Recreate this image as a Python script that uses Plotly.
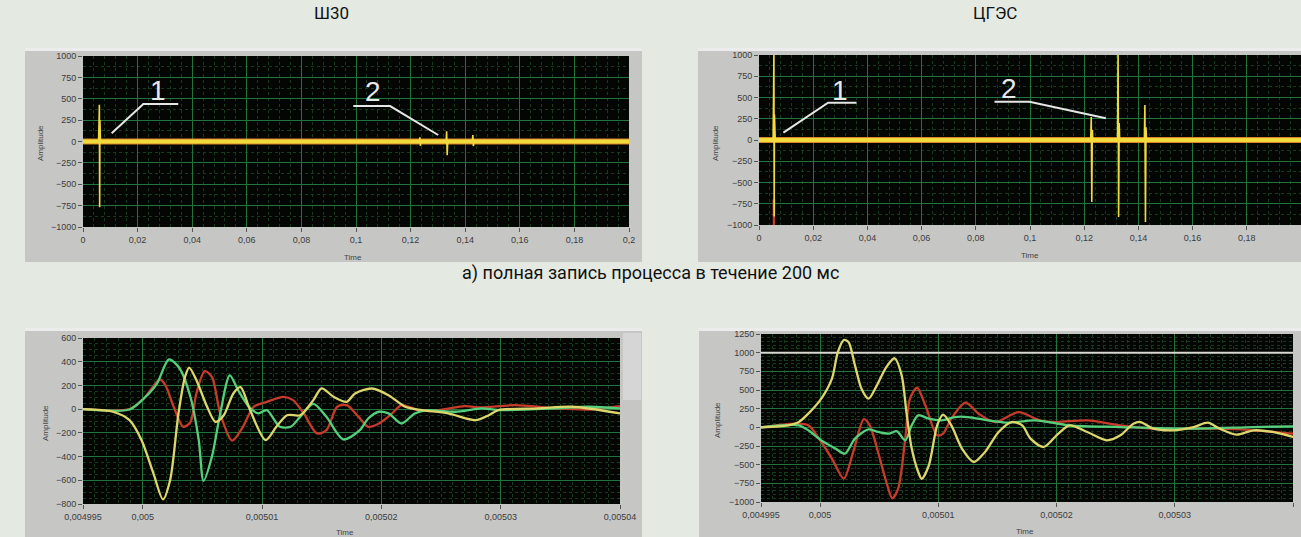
import plotly.graph_objects as go

# ---------------- DATA ----------------
panel_titles = ["Ш30", "ЦГЭС"]
caption = "а) полная запись процесса в течение 200 мс"

# Top panels: full 200 ms record (time in s, amplitude)
top_base_t = [0.0, 0.2]
top_base_a = [0, 0]

shz_spike_t = [0.0, 0.0057, 0.0059, 0.0060, 0.0061, 0.0062, 0.0064, 0.1232, 0.1234, 0.1236,
               0.1238, 0.1330, 0.1332, 0.1334, 0.1336, 0.1426, 0.1428, 0.1430, 0.1432, 0.2]
shz_spike_a = [0, 0, 260, 430, -770, 250, 0, 0, 50, -50,
               0, 0, 120, -160, 0, 0, 76, -53, 0, 0]

cges_spike_t = [0.0, 0.0052, 0.0054, 0.0055, 0.0056, 0.0057, 0.0060, 0.1224, 0.1226, 0.1228,
                0.1230, 0.1232, 0.1323, 0.1325, 0.1327, 0.1329, 0.1331, 0.1422, 0.1424, 0.1426,
                0.1428, 0.1430, 0.2]
cges_spike_a = [0, 0, 600, 1100, -900, 300, 0, 0, 270, -730,
                120, 0, 0, 1100, -906, 200, 0, 0, 412, -965,
                150, 0, 0]
cges_red_t = [0.0054, 0.0055, 0.0056]
cges_red_a = [-700, -1000, -700]

# Labels "1" / "2" with leader lines (axis coords)
marks_top_left = [("1", 0.0275, 602, [0.0105, 0.0221, 0.0349], [96, 439, 439]),
                  ("2", 0.1063, 582, [0.0990, 0.1125, 0.1301], [415, 415, 76])]
marks_top_right = [("1", 0.0298, 588, [0.0090, 0.0255, 0.0360], [86, 439, 439]),
                   ("2", 0.0924, 608, [0.0869, 0.0998, 0.1280], [451, 451, 255])]

# Bottom-left (Ш30) zoom: time in microseconds
bl_green_t = [4995, 4998.9, 5000.1, 5001.2, 5002.2, 5003.1, 5004.0, 5004.7, 5005.1, 5005.8,
              5006.5, 5007.3, 5008.0, 5008.9, 5009.7, 5010.4, 5011.5, 5012.4, 5013.2, 5014.3,
              5015.4, 5016.8, 5018.2, 5018.9, 5019.8, 5020.6, 5021.7, 5022.8, 5023.9, 5026.2,
              5028.4, 5029.8, 5034.6, 5037.4, 5040]
bl_green_a = [0, -3, 90, 216, 420, 343, 104, -261, -605, -402,
              -36, 285, 160, 20, -36, -8, -149, -149, -65, 45,
              -65, -255, -177, -79, -22, -36, -121, -36, -8, -22,
              6, -8, 6, 20, 6]
bl_red_t = [4995, 4998.9, 5000.1, 5001.45, 5001.9, 5002.6, 5003.4, 5004.0, 5004.5, 5005.2,
            5005.8, 5006.5, 5007.5, 5008.4, 5009.3, 5010.4, 5011.8, 5012.6, 5013.5, 5014.6,
            5015.4, 5016.3, 5017.1, 5018.1, 5018.9, 5019.8, 5020.9, 5021.7, 5023.1, 5024.8,
            5027.0, 5028.4, 5031.2, 5034.6, 5037.4, 5040]
bl_red_a = [0, 0, 90, 250, 202, 20, -149, -110, 132, 320,
            272, -36, -265, -149, 20, 62, 104, 76, -36, -205,
            -177, 20, 34, -65, -149, -121, -36, 34, -8, -8,
            25, 14, 34, 6, -3, 25]
bl_yellow_t = [4995, 4997.5, 4998.9, 4999.9, 5000.9, 5001.7, 5002.3, 5003.0, 5003.55, 5003.9,
               5004.5, 5005.4, 5006.1, 5006.8, 5007.6, 5008.2, 5009.0, 5010.3, 5011.2, 5012.1,
               5013.2, 5014.3, 5015.0, 5016.0, 5017.1, 5017.8, 5019.2, 5020.6, 5022.0, 5023.4,
               5025.6, 5027.9, 5029.0, 5029.8, 5033.2, 5036.0, 5040]
bl_yellow_a = [0, -22, -93, -261, -542, -760, -599, -36, 272, 350,
               245, 20, -107, -51, 132, 185, -8, -261, -149, -51,
               -51, 76, 175, 104, 62, 132, 174, 118, 20, -8,
               -36, -93, -51, -8, 6, 20, -36]

# Bottom-right (ЦГЭС) zoom
br_yellow_t = [4995, 4997.3, 4998.2, 4999.0, 5000.1, 5001.0, 5001.5, 5002.0, 5002.4, 5002.95,
               5003.5, 5004.1, 5004.8, 5005.6, 5006.3, 5006.9, 5007.3, 5007.75, 5008.3, 5008.6,
               5009.2, 5009.9, 5010.4, 5011.1, 5012.0, 5013.0, 5013.95, 5015.1, 5016.2, 5017.1,
               5017.8, 5018.9, 5020.0, 5021.1, 5022.6, 5024.25, 5025.4, 5026.5, 5027.1, 5028.2,
               5029.9, 5031.6, 5032.8, 5033.8, 5035.2, 5036.7, 5038.3, 5040]
br_yellow_a = [0, 27, 71, 183, 384, 652, 1008, 1170, 1142, 830,
               518, 384, 562, 807, 925, 696, 205, -285, -598, -690,
               -509, 27, 170, 27, -285, -464, -330, -62, 71, 27,
               -152, -263, -107, 27, -62, -174, -107, 49, 71, -18,
               -40, 4, 62, -18, -98, -40, -62, -129]
br_red_t = [4995, 4997.9, 4999.0, 5000.1, 5001.0, 5002.0, 5002.8, 5003.7, 5004.2, 5004.9,
            5005.6, 5006.1, 5006.6, 5007.2, 5007.6, 5008.2, 5008.9, 5009.9, 5010.4, 5011.1,
            5012.3, 5013.4, 5014.8, 5016.8, 5018.2, 5018.6, 5020.0, 5022.6, 5025.4, 5028.2,
            5033.8, 5036.7, 5040]
br_red_a = [0, 49, 27, -196, -419, -687, -330, 110, 27, -330,
            -732, -950, -821, -152, 384, 530, 295, -107, -85, 116,
            330, 183, 71, 205, 116, 94, 71, 94, 27, -18,
            -18, -40, -85]
br_green_t = [4995, 4998.2, 4999.0, 5000.1, 5001.3, 5002.1, 5002.95, 5004.1, 5004.9, 5005.8,
              5006.5, 5007.2, 5007.75, 5008.3, 5009.2, 5010.3, 5011.4, 5012.5, 5014.2, 5015.9,
              5018.2, 5021.1, 5025.4, 5030.9, 5036.7, 5040]
br_green_a = [0, 27, -40, -174, -285, -352, -152, -27, -62, -85,
              -53, -174, 27, 161, 116, 94, 138, 138, 94, 62,
              94, 27, 4, -18, 4, 13]
br_threshold = 1000

top_x_ticks = [0, 0.02, 0.04, 0.06, 0.08, 0.1, 0.12, 0.14, 0.16, 0.18, 0.2]
top_y_ticks = [-1000, -750, -500, -250, 0, 250, 500, 750, 1000]
bot_x_ticks_us = [4995, 5000, 5010, 5020, 5030, 5040]
bot_x_labels = ["0,004995", "0,005", "0,00501", "0,00502", "0,00503", "0,00504"]
bl_y_ticks = [-800, -600, -400, -200, 0, 200, 400, 600]
br_y_ticks = [-1000, -750, -500, -250, 0, 250, 500, 750, 1000, 1250]

# ---------------- STYLE ----------------
W, H = 1301, 537
BG = "#e4e9e2"
FRAME = "#c6c7c5"
PLOT_BG = "#030603"
GRID = "#21753a"
MINOR = "#143c1d"
YEL = "#f0da3c"
ORANGE = "#d7842c"
RED = "#c83a2a"
GRN = "#55cf7c"
PALE_Y = "#dcd66c"
TICKFONT = dict(family="Liberation Sans, Arial, sans-serif", size=9, color="#3c3c3c")
TITLEFONT = "Roboto, Liberation Sans, sans-serif"


def px(x):
    return x / W


def py(y):
    return 1 - y / H


def sec(lst):
    return [v * 1e-6 for v in lst]


fig = go.Figure()

# top-left
fig.add_trace(go.Scatter(x=top_base_t, y=top_base_a, mode="lines", line=dict(color=ORANGE, width=6),
                         xaxis="x", yaxis="y", hoverinfo="skip"))
fig.add_trace(go.Scatter(x=top_base_t, y=top_base_a, mode="lines", line=dict(color=YEL, width=4),
                         xaxis="x", yaxis="y"))
fig.add_trace(go.Scatter(x=shz_spike_t, y=shz_spike_a, mode="lines", line=dict(color=YEL, width=1.6),
                         xaxis="x", yaxis="y"))
# top-right
fig.add_trace(go.Scatter(x=top_base_t, y=top_base_a, mode="lines", line=dict(color=ORANGE, width=6),
                         xaxis="x2", yaxis="y2", hoverinfo="skip"))
fig.add_trace(go.Scatter(x=top_base_t, y=top_base_a, mode="lines", line=dict(color=YEL, width=4),
                         xaxis="x2", yaxis="y2"))
fig.add_trace(go.Scatter(x=cges_red_t, y=cges_red_a, mode="lines", line=dict(color=RED, width=2.2),
                         xaxis="x2", yaxis="y2"))
fig.add_trace(go.Scatter(x=cges_spike_t, y=cges_spike_a, mode="lines", line=dict(color=YEL, width=1.6),
                         xaxis="x2", yaxis="y2"))

# bottom-left
for t, a, c in [(bl_red_t, bl_red_a, RED), (bl_green_t, bl_green_a, GRN), (bl_yellow_t, bl_yellow_a, PALE_Y)]:
    fig.add_trace(go.Scatter(x=sec(t), y=a, mode="lines", line=dict(color=c, width=2.3, shape="spline", smoothing=0.8),
                             xaxis="x3", yaxis="y3"))
# bottom-right
fig.add_trace(go.Scatter(x=sec([bot_x_ticks_us[0], bot_x_ticks_us[-1]]), y=[br_threshold, br_threshold],
                         mode="lines", line=dict(color="#d8d8d0", width=2), xaxis="x4", yaxis="y4"))
for t, a, c in [(br_red_t, br_red_a, RED), (br_green_t, br_green_a, GRN), (br_yellow_t, br_yellow_a, PALE_Y)]:
    fig.add_trace(go.Scatter(x=sec(t), y=a, mode="lines", line=dict(color=c, width=2.3, shape="spline", smoothing=0.8),
                             xaxis="x4", yaxis="y4"))

# leader lines for marks
for marks, xa, ya in [(marks_top_left, "x", "y"), (marks_top_right, "x2", "y2")]:
    for label, tx, ty, lx, ly in marks:
        fig.add_trace(go.Scatter(x=lx, y=ly, mode="lines", line=dict(color="#e6e6e6", width=2),
                                 xaxis=xa, yaxis=ya))


def ax(**kw):
    d = dict(showgrid=True, gridcolor=GRID, gridwidth=1, zeroline=False, ticks="outside", ticklen=4,
             tickcolor="#555", tickfont=TICKFONT, showline=False, fixedrange=True, automargin=False)
    d.update(kw)
    return d


def minor(dt, t0=0):
    return dict(dtick=dt, tick0=t0, showgrid=True, gridcolor=MINOR, griddash="dot", ticks="")


layout = dict(
    width=W, height=H, margin=dict(l=0, r=0, t=0, b=0, pad=0), paper_bgcolor=BG, plot_bgcolor=PLOT_BG,
    showlegend=False, separators=", ", autosize=False,
    xaxis=ax(domain=[px(83), px(629)], range=[0, 0.2], anchor="y", tickvals=top_x_ticks, minor=minor(0.004)),
    yaxis=ax(domain=[py(227), py(56)], range=[-1000, 1000], anchor="x", tickvals=top_y_ticks, minor=minor(125)),
    xaxis2=ax(domain=[px(759), 1.0], range=[0, 0.2], anchor="y2", tickvals=top_x_ticks, minor=minor(0.004)),
    yaxis2=ax(domain=[py(225), py(55)], range=[-1000, 1000], anchor="x2", tickvals=top_y_ticks, minor=minor(125)),
    xaxis3=ax(domain=[px(83), px(620)], range=sec([4995, 5040]), anchor="y3",
              tickvals=sec(bot_x_ticks_us), ticktext=bot_x_labels, minor=minor(1e-6, 0.004995)),
    yaxis3=ax(domain=[py(504), py(338)], range=[-800, 600], anchor="x3", tickvals=bl_y_ticks, minor=minor(50)),
    xaxis4=ax(domain=[px(761), px(1293)], range=sec([4995, 5040]), anchor="y4",
              tickvals=sec(bot_x_ticks_us), ticktext=bot_x_labels, minor=minor(1e-6, 0.004995)),
    yaxis4=ax(domain=[py(502), py(334)], range=[-1000, 1250], anchor="x4", tickvals=br_y_ticks, minor=minor(50)),
)
fig.update_layout(**layout)

# gray instrument frames + black plot screens
shapes = []
for (x0, x1, y0, y1) in [(25, 642, 48, 262), (698, 1301, 48, 262), (25, 642, 328, 537), (699, 1301, 328, 537)]:
    shapes.append(dict(type="rect", xref="paper", yref="paper", x0=px(x0), x1=px(x1), y0=py(y1), y1=py(y0),
                       fillcolor=FRAME, line=dict(width=0), layer="below"))
    shapes.append(dict(type="rect", xref="paper", yref="paper", x0=px(x0), x1=px(x1), y0=py(y0 + 3), y1=py(y0),
                       fillcolor="#ececec", line=dict(width=0), layer="below"))
shapes.append(dict(type="rect", xref="paper", yref="paper", x0=px(623), x1=px(641), y0=py(400), y1=py(333),
                   fillcolor="#d6d6d6", line=dict(width=0), layer="below"))
for (x0, x1, y0, y1) in [(83, 629, 56, 227), (759, 1301, 55, 225), (83, 620, 338, 504), (761, 1293, 334, 502)]:
    shapes.append(dict(type="rect", xref="paper", yref="paper", x0=px(x0), x1=px(x1), y0=py(y1), y1=py(y0),
                       fillcolor=PLOT_BG, line=dict(width=0), layer="below"))
fig.update_layout(shapes=shapes)

ann = []
ann.append(dict(text=panel_titles[0], x=px(331), y=py(13), xref="paper", yref="paper", showarrow=False,
                xanchor="center", yanchor="middle", font=dict(family=TITLEFONT, size=17, color="#111")))
ann.append(dict(text=panel_titles[1], x=px(995), y=py(13), xref="paper", yref="paper", showarrow=False,
                xanchor="center", yanchor="middle", font=dict(family=TITLEFONT, size=17, color="#111")))
ann.append(dict(text=caption, x=px(650), y=py(273), xref="paper", yref="paper", showarrow=False,
                xanchor="center", yanchor="middle", font=dict(family=TITLEFONT, size=18, color="#111")))
for (x, y) in [(353, 257), (1030, 255), (345, 532), (1025, 531)]:
    ann.append(dict(text="Time", x=px(x), y=py(y), xref="paper", yref="paper", showarrow=False,
                    xanchor="center", yanchor="middle",
                    font=dict(family="Liberation Sans, Arial, sans-serif", size=8, color="#444")))
for (x, y) in [(40, 143), (715, 143), (45, 423), (717, 420)]:
    ann.append(dict(text="Amplitude", x=px(x), y=py(y), xref="paper", yref="paper", showarrow=False,
                    xanchor="center", yanchor="middle", textangle=-90,
                    font=dict(family="Liberation Sans, Arial, sans-serif", size=8, color="#444")))
for marks, xa, ya in [(marks_top_left, "x", "y"), (marks_top_right, "x2", "y2")]:
    for label, tx, ty, lx, ly in marks:
        ann.append(dict(text=label, x=tx, y=ty, xref=xa, yref=ya, showarrow=False,
                        xanchor="center", yanchor="middle",
                        font=dict(family="Liberation Sans, Arial, sans-serif", size=28, color="#e8e8e8")))
fig.update_layout(annotations=ann)

fig.write_html("out.html", config={"displayModeBar": False},
               post_script="document.body.style.margin='0';document.body.style.overflow='hidden';")
